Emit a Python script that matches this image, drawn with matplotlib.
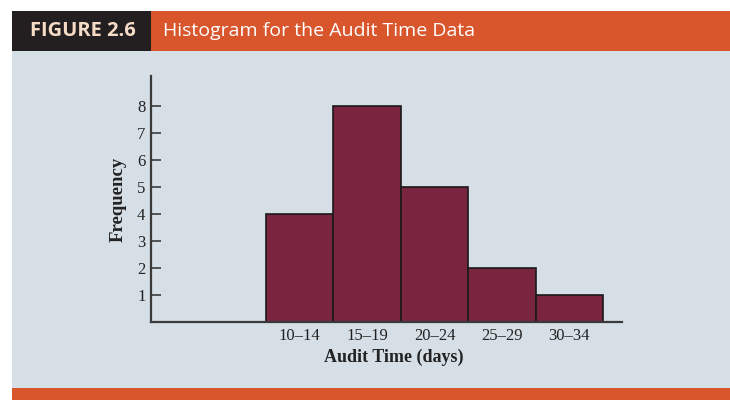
import numpy as np
import matplotlib
matplotlib.use("Agg")
import matplotlib.pyplot as plt
from matplotlib.patches import Rectangle

## Data :

bin_labels = ["10\u201314", "15\u201319", "20\u201324", "25\u201329", "30\u201334"]
bin_left = [10, 15, 20, 25, 30]
frequency = [4, 8, 5, 2, 1]
bin_width = 5

## Colours :

BAR = "#7a2540"
PANEL = "#d6dfe6"
ORANGE = "#d9552b"
DARK = "#231f20"
AXIS = "#3a3a3a"

W, H = 730, 400
fig = plt.figure(figsize=(W / 100, H / 100), dpi=100)
fig.patch.set_facecolor("white")

def px_rect(x0, y0, x1, y1, color):
    # rectangle given in pixel coords, y measured from top
    fig.patches.append(Rectangle((x0 / W, 1 - y1 / H), (x1 - x0) / W, (y1 - y0) / H,
                                 transform=fig.transFigure, facecolor=color,
                                 edgecolor="none", zorder=-5))

# header + panel + bottom strip
px_rect(12, 51, W, 388, PANEL)
px_rect(12, 11, 151, 51, DARK)
px_rect(151, 11, W, 51, ORANGE)
px_rect(12, 388, W, H, ORANGE)

fig.text(30 / W, 1 - 31 / H, "FIGURE 2.6", color="#f6dcc6", fontsize=14.5,
         fontweight="bold", family="Open Sans", va="center", ha="left")
fig.text(163 / W, 1 - 31 / H, "Histogram for the Audit Time Data", color="white",
         fontsize=14, family="Open Sans", va="center", ha="left")

# axes placement (pixel measurements from the reference)
ax = fig.add_axes([151 / W, 1 - 322 / H, 471 / W, 246 / H])
ax.set_facecolor("none")

ax.bar(bin_left, frequency, width=bin_width, align="edge", color=BAR,
       edgecolor="#1a1a1a", linewidth=1.2, zorder=2)

ax.set_xlim(1.48, 36.4)
ax.set_ylim(0, 9.11)

ax.set_yticks(range(1, 9))
ax.set_xticks([l + bin_width / 2 for l in bin_left])
ax.set_xticklabels(bin_labels)

serif = "Liberation Serif"
for lab in ax.get_xticklabels() + ax.get_yticklabels():
    lab.set_family(serif)
    lab.set_fontsize(12)
    lab.set_color("#222222")

ax.tick_params(axis="y", direction="in", length=7, width=1.2, color=AXIS, pad=4)
ax.tick_params(axis="x", length=0, pad=4)

for s in ["top", "right"]:
    ax.spines[s].set_visible(False)
for s in ["left", "bottom"]:
    ax.spines[s].set_color(AXIS)
    ax.spines[s].set_linewidth(1.6)

ax.set_xlabel("Audit Time (days)", family=serif, fontsize=13, fontweight="bold",
              color="#222222", va="center")
ax.xaxis.set_label_coords((394 - 151) / 471, -(357 - 322) / 246)
ax.set_ylabel("Frequency", family=serif, fontsize=13.5, fontweight="bold",
              color="#222222", va="center")
ax.yaxis.set_label_coords(-(151 - 118) / 471, (322 - 199) / 246)

fig.savefig("out.png", dpi=100, facecolor=fig.get_facecolor())
